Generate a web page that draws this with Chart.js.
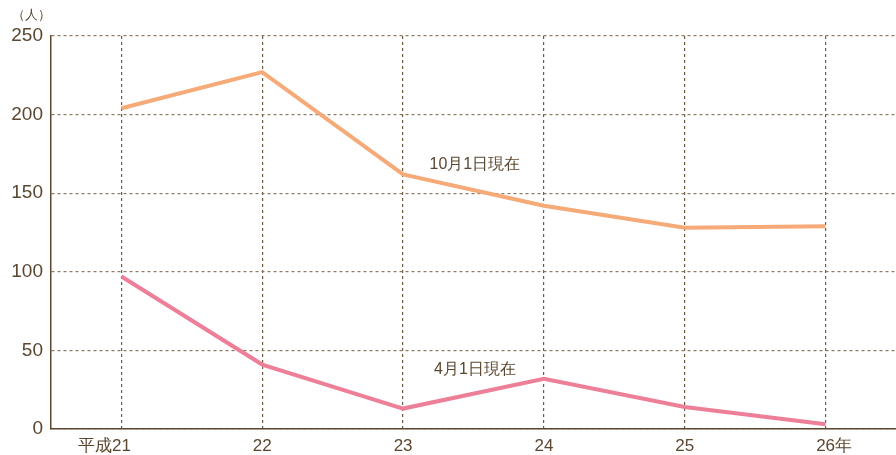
<!DOCTYPE html>
<html>
<head>
<meta charset="utf-8">
<script src="https://cdn.jsdelivr.net/npm/chart.js@4"></script>
<style>
  html, body { margin: 0; padding: 0; background: #fff; }
  #wrap { width: 896px; height: 455px; position: relative; }
</style>
</head>
<body>
<div id="wrap"><canvas id="lineChart"></canvas></div>
<script>
// 年度ラベル（数字部分は目盛りの中央に置く）
const yearPrefix = ['平成', '', '', '', '', ''];
const yearNums = ['21', '22', '23', '24', '25', '26'];
const yearSuffix = ['', '', '', '', '', '年'];

// 10月1日現在 / 4月1日現在（人）
const octValues = [204, 227, 162, 142, 128, 129];
const aprValues = [97, 41, 13, 32, 14, 3];

const yTicks = [0, 50, 100, 150, 200, 250];
const unitLabel = '（人）';
const octLabel = '10月1日現在';
const aprLabel = '4月1日現在';

const textColor = '#5b4630';
const fontFamily = '"Liberation Sans", Arial, sans-serif';

// 軸ラベルと注記を描く
const labelPlugin = {
    id: 'labelPlugin',
    afterDraw(chart) {
        const ctx = chart.ctx;
        const xs = chart.scales.x;
        const ys = chart.scales.y;
        ctx.save();
        ctx.fillStyle = textColor;
        ctx.textBaseline = 'middle';

        // 単位
        ctx.font = '13px ' + fontFamily;
        ctx.textAlign = 'left';
        ctx.fillText(unitLabel, 12, 15);

        // X軸ラベル
        ctx.font = '17px ' + fontFamily;
        const ly = ys.bottom + 17;
        yearNums.forEach((n, i) => {
            const cx = xs.getPixelForValue(i);
            const w = ctx.measureText(n).width;
            ctx.textAlign = 'center';
            ctx.fillText(n, cx, ly);
            if (yearPrefix[i]) {
                ctx.textAlign = 'right';
                ctx.fillText(yearPrefix[i], cx - w / 2, ly);
            }
            if (yearSuffix[i]) {
                ctx.textAlign = 'left';
                ctx.fillText(yearSuffix[i], cx + w / 2, ly);
            }
        });

        // 系列の注記
        ctx.font = '16px ' + fontFamily;
        ctx.textAlign = 'center';
        const ax = xs.getPixelForValue(2) + (xs.getPixelForValue(3) - xs.getPixelForValue(2)) * 0.51;
        ctx.fillText(octLabel, ax, ys.getPixelForValue(168));
        ctx.fillText(aprLabel, ax, ys.getPixelForValue(37.5));
        ctx.restore();
    }
};

new Chart(document.getElementById('lineChart'), {
    type: 'line',
    data: {
        labels: yearNums,
        datasets: [
            {
                label: octLabel,
                data: octValues,
                borderColor: '#f5aa78',
                borderWidth: 4,
                pointRadius: 0,
                tension: 0,
                fill: false
            },
            {
                label: aprLabel,
                data: aprValues,
                borderColor: '#ed7f98',
                borderWidth: 4,
                pointRadius: 0,
                tension: 0,
                fill: false
            }
        ]
    },
    options: {
        responsive: true,
        maintainAspectRatio: false,
        animation: false,
        layout: { padding: { top: 36, right: 0, left: 0, bottom: 0 } },
        plugins: {
            legend: { display: false },
            tooltip: { enabled: false }
        },
        scales: {
            x: {
                offset: true,
                grid: {
                    offset: false,
                    color: '#6e5a40',
                    lineWidth: 1.2,
                    drawTicks: false
                },
                border: { display: true, color: '#5b4630', width: 1.5, dash: [3, 3] },
                ticks: { display: false },
                afterFit(scale) { scale.height = 26; }
            },
            y: {
                min: 0,
                max: 250,
                afterBuildTicks(scale) { scale.ticks = yTicks.map(v => ({ value: v })); },
                grid: {
                    color: '#8c7a62',
                    lineWidth: 1.2,
                    drawTicks: false
                },
                border: { display: true, color: '#5b4630', width: 1.5, dash: [3, 3] },
                ticks: {
                    color: textColor,
                    padding: 8,
                    font: { size: 19, family: fontFamily }
                },
                afterFit(scale) { scale.width = 51; }
            }
        }
    },
    plugins: [labelPlugin]
});
</script>
</body>
</html>
